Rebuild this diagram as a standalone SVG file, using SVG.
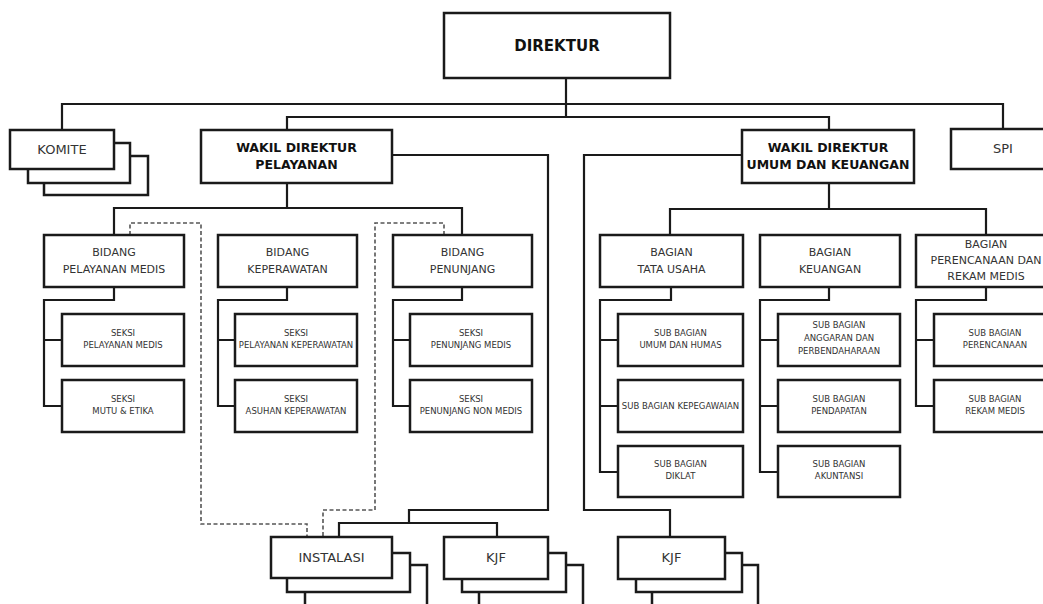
<svg xmlns="http://www.w3.org/2000/svg" width="1043" height="604" viewBox="0 0 1043 604">
<style>
.box{fill:#fff;stroke:#1a1a1a;stroke-width:2.5}
.ln{fill:none;stroke:#1a1a1a;stroke-width:2.2}
.dash{fill:none;stroke:#555;stroke-width:1.6;stroke-dasharray:4 2.5}
.tb{font-family:"DejaVu Sans",Verdana,sans-serif;font-weight:bold;fill:#111;text-anchor:middle}
.t{font-family:"DejaVu Sans",Verdana,sans-serif;fill:#333;text-anchor:middle}
.s15{font-size:15px}.s13{font-size:13px}.s125{font-size:12.5px}.s11{font-size:11px}.s8{font-size:8.5px}
</style>
<rect width="1043" height="604" fill="#fff"/>
<g id="connectors">
<path class="ln" d="M566,78 V117"/>
<path class="ln" d="M62,130 V104 H1003 V129"/>
<path class="ln" d="M287,130 V117 H829 V130"/>
<path class="ln" d="M287,183 V208"/>
<path class="ln" d="M114,235 V208 H462 V235"/>
<path class="ln" d="M392,155 H548 V510 H409 V523"/>
<path class="ln" d="M339,537 V523 H497 V537"/>
<path class="ln" d="M742,155 H584 V510 H670 V537"/>
<path class="ln" d="M829,183 V209"/>
<path class="ln" d="M670,235 V209 H986 V235"/>
<path class="ln" d="M114,287 V300 H44 V406 H62 M44,340 H62"/>
<path class="ln" d="M287,287 V300 H218 V406 H235 M218,340 H235"/>
<path class="ln" d="M462,287 V300 H393 V406 H410 M393,340 H410"/>
<path class="ln" d="M671,287 V300 H600 V472 H618 M600,340 H618 M600,406 H618"/>
<path class="ln" d="M829,287 V300 H760 V472 H778 M760,340 H778 M760,406 H778"/>
<path class="ln" d="M986,287 V300 H916 V406 H934 M916,340 H934"/>
<path class="dash" d="M130,235 V223 H201 V524 H307 V537"/>
<path class="dash" d="M444,235 V223 H375 V510 H323 V537"/>
</g>
<g id="direktur">
<rect class="box" x="444" y="13" width="226" height="65"/>
<text class="tb s15" x="557" y="51">DIREKTUR</text>
</g>
<g id="komite">
<rect class="box" x="44" y="156" width="104" height="39"/>
<rect class="box" x="28" y="143" width="102" height="40"/>
<rect class="box" x="10" y="130" width="104" height="39"/>
<text class="t s13" x="62" y="154">KOMITE</text>
</g>
<g id="wadir-pelayanan">
<rect class="box" x="201" y="130" width="191" height="53"/>
<text class="tb s125" x="296.5" y="152">WAKIL DIREKTUR</text>
<text class="tb s125" x="296.5" y="169">PELAYANAN</text>
</g>
<g id="wadir-umum">
<rect class="box" x="742" y="130" width="172" height="53"/>
<text class="tb s125" x="828" y="152">WAKIL DIREKTUR</text>
<text class="tb s125" x="828" y="169">UMUM DAN KEUANGAN</text>
</g>
<g id="spi">
<rect class="box" x="951" y="129" width="100" height="40"/>
<text class="t s13" x="1003" y="153">SPI</text>
</g>
<g id="bidang-pelayanan-medis">
<rect class="box" x="44" y="235" width="140" height="52"/>
<text class="t s11" x="114" y="256">BIDANG</text>
<text class="t s11" x="114" y="273">PELAYANAN MEDIS</text>
</g>
<g id="bidang-keperawatan">
<rect class="box" x="218" y="235" width="139" height="52"/>
<text class="t s11" x="287.5" y="256">BIDANG</text>
<text class="t s11" x="287.5" y="273">KEPERAWATAN</text>
</g>
<g id="bidang-penunjang">
<rect class="box" x="393" y="235" width="139" height="52"/>
<text class="t s11" x="462.5" y="256">BIDANG</text>
<text class="t s11" x="462.5" y="273">PENUNJANG</text>
</g>
<g id="bagian-tata-usaha">
<rect class="box" x="600" y="235" width="143" height="52"/>
<text class="t s11" x="671.5" y="256">BAGIAN</text>
<text class="t s11" x="671.5" y="273">TATA USAHA</text>
</g>
<g id="bagian-keuangan">
<rect class="box" x="760" y="235" width="140" height="52"/>
<text class="t s11" x="830" y="256">BAGIAN</text>
<text class="t s11" x="830" y="273">KEUANGAN</text>
</g>
<g id="bagian-perencanaan">
<rect class="box" x="916" y="235" width="140" height="52"/>
<text class="t s11" x="986" y="248">BAGIAN</text>
<text class="t s11" x="986" y="264">PERENCANAAN DAN</text>
<text class="t s11" x="986" y="280">REKAM MEDIS</text>
</g>
<g id="seksi-pelayanan-medis">
<rect class="box" x="62" y="314" width="122" height="52"/>
<text class="t s8" x="123" y="336">SEKSI</text>
<text class="t s8" x="123" y="348">PELAYANAN MEDIS</text>
</g>
<g id="seksi-mutu-etika">
<rect class="box" x="62" y="380" width="122" height="52"/>
<text class="t s8" x="123" y="402">SEKSI</text>
<text class="t s8" x="123" y="414">MUTU &amp; ETIKA</text>
</g>
<g id="seksi-pelayanan-keperawatan">
<rect class="box" x="235" y="314" width="122" height="52"/>
<text class="t s8" x="296" y="336">SEKSI</text>
<text class="t s8" x="296" y="348">PELAYANAN KEPERAWATAN</text>
</g>
<g id="seksi-asuhan-keperawatan">
<rect class="box" x="235" y="380" width="122" height="52"/>
<text class="t s8" x="296" y="402">SEKSI</text>
<text class="t s8" x="296" y="414">ASUHAN KEPERAWATAN</text>
</g>
<g id="seksi-penunjang-medis">
<rect class="box" x="410" y="314" width="122" height="52"/>
<text class="t s8" x="471" y="336">SEKSI</text>
<text class="t s8" x="471" y="348">PENUNJANG MEDIS</text>
</g>
<g id="seksi-penunjang-non-medis">
<rect class="box" x="410" y="380" width="122" height="52"/>
<text class="t s8" x="471" y="402">SEKSI</text>
<text class="t s8" x="471" y="414">PENUNJANG NON MEDIS</text>
</g>
<g id="sub-umum-humas">
<rect class="box" x="618" y="314" width="125" height="52"/>
<text class="t s8" x="680.5" y="336">SUB BAGIAN</text>
<text class="t s8" x="680.5" y="348">UMUM DAN HUMAS</text>
</g>
<g id="sub-kepegawaian">
<rect class="box" x="618" y="380" width="125" height="52"/>
<text class="t s8" x="680.5" y="409">SUB BAGIAN KEPEGAWAIAN</text>
</g>
<g id="sub-diklat">
<rect class="box" x="618" y="446" width="125" height="51"/>
<text class="t s8" x="680.5" y="467">SUB BAGIAN</text>
<text class="t s8" x="680.5" y="479">DIKLAT</text>
</g>
<g id="sub-anggaran">
<rect class="box" x="778" y="314" width="122" height="52"/>
<text class="t s8" x="839" y="328">SUB BAGIAN</text>
<text class="t s8" x="839" y="341">ANGGARAN DAN</text>
<text class="t s8" x="839" y="354">PERBENDAHARAAN</text>
</g>
<g id="sub-pendapatan">
<rect class="box" x="778" y="380" width="122" height="52"/>
<text class="t s8" x="839" y="402">SUB BAGIAN</text>
<text class="t s8" x="839" y="414">PENDAPATAN</text>
</g>
<g id="sub-akuntansi">
<rect class="box" x="778" y="446" width="122" height="51"/>
<text class="t s8" x="839" y="467">SUB BAGIAN</text>
<text class="t s8" x="839" y="479">AKUNTANSI</text>
</g>
<g id="sub-perencanaan">
<rect class="box" x="934" y="314" width="122" height="52"/>
<text class="t s8" x="995" y="336">SUB BAGIAN</text>
<text class="t s8" x="995" y="348">PERENCANAAN</text>
</g>
<g id="sub-rekam-medis">
<rect class="box" x="934" y="380" width="122" height="52"/>
<text class="t s8" x="995" y="402">SUB BAGIAN</text>
<text class="t s8" x="995" y="414">REKAM MEDIS</text>
</g>
<g id="instalasi">
<rect class="box" x="305" y="565" width="122" height="45"/>
<rect class="box" x="287" y="553" width="123" height="39"/>
<rect class="box" x="271" y="537" width="121" height="41"/>
<text class="t s13" x="331.5" y="562">INSTALASI</text>
</g>
<g id="kjf-pelayanan">
<rect class="box" x="479" y="565" width="104" height="45"/>
<rect class="box" x="462" y="553" width="104" height="39"/>
<rect class="box" x="444" y="537" width="104" height="42"/>
<text class="t s13" x="496" y="562">KJF</text>
</g>
<g id="kjf-umum">
<rect class="box" x="652" y="565" width="106" height="45"/>
<rect class="box" x="636" y="553" width="106" height="39"/>
<rect class="box" x="618" y="537" width="107" height="42"/>
<text class="t s13" x="671.5" y="562">KJF</text>
</g>
</svg>
